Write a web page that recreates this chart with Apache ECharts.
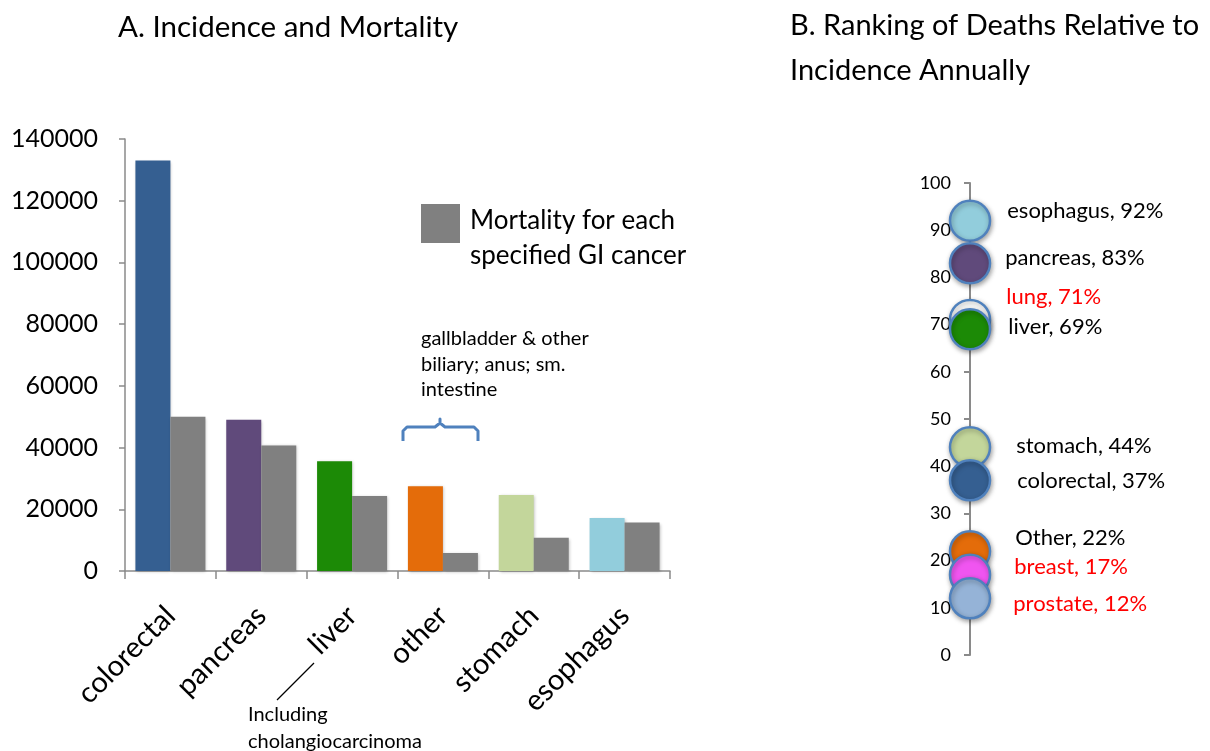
<!DOCTYPE html>
<html>
<head>
<meta charset="utf-8">
<script src="https://cdn.jsdelivr.net/npm/echarts@6/dist/echarts.min.js"></script>
<style>
  html, body { margin: 0; padding: 0; background: #ffffff; }
  #chart { width: 1210px; height: 751px; }
</style>
</head>
<body>
<div id="chart"></div>
<script>
// Panel A: annual incidence and mortality by GI cancer site
const categories = ['colorectal', 'pancreas', 'liver', 'other', 'stomach', 'esophagus'];
const incidence = [133000, 49000, 35600, 27500, 24600, 17200];
const mortality = [50000, 40700, 24300, 5800, 10800, 15700];
const yTicksA = { min: 0, max: 140000, step: 20000 };

// Panel B: deaths relative to incidence (%)
const rankNames = ['esophagus', 'pancreas', 'lung', 'liver', 'stomach', 'colorectal', 'Other', 'breast', 'prostate'];
const rankPct = [92, 83, 71, 69, 44, 37, 22, 17, 12];
const yTicksB = { min: 0, max: 100, step: 10 };

// Styling tables
const siteColors = ['#355f91', '#604a7b', '#1c8a06', '#e46c0a', '#c3d69b', '#92cddc'];
const rankColors = ['#92cddc', '#604a7b', '#ffffff', '#1c8a06', '#c3d69b', '#355f91', '#e46c0a', '#f055f0', '#95b3d7'];
const rankTextColors = ['#000000', '#000000', '#ff0000', '#000000', '#000000', '#000000', '#000000', '#ff0000', '#ff0000'];
const rankLabelNudge = [[0, -10], [-2, -5], [-1, -23], [1, -2], [9, -1], [10, 1], [8, -13], [7, -8], [6, 6]];

const FONT = 'Lato, "Open Sans", "Liberation Sans", sans-serif';
const AXIS_GREY = '#8a8a8a';
const mortalityName = 'Mortality for each specified GI cancer';

const chart = echarts.init(document.getElementById('chart'));

chart.setOption({
  backgroundColor: '#ffffff',
  animation: false,
  textStyle: { fontFamily: FONT, color: '#000' },
  title: [
    {
      text: 'A. Incidence and Mortality',
      left: 113, top: 7,
      textStyle: { fontFamily: FONT, fontSize: 29.5, fontWeight: 'normal', color: '#000' }
    },
    {
      text: 'B. Ranking of Deaths Relative to\nIncidence Annually',
      left: 785, top: -2,
      textStyle: { fontFamily: FONT, fontSize: 29, fontWeight: 'normal', color: '#000', lineHeight: 45 }
    }
  ],
  legend: {
    data: [mortalityName],
    left: 421, top: 204, padding: 0,
    icon: 'rect',
    itemWidth: 39, itemHeight: 39,
    selectedMode: false,
    // two-line legend text, first line level with the swatch
    formatter: () => '{a|Mortality for each}\n{b|specified GI cancer}',
    textStyle: {
      fontFamily: FONT, fontSize: 26, color: '#000',
      rich: {
        a: { fontFamily: FONT, fontSize: 26, color: '#000', lineHeight: 64, padding: [0, 0, 0, 5] },
        b: { fontFamily: FONT, fontSize: 26, color: '#000', lineHeight: 6, padding: [0, 0, 0, 5] }
      }
    }
  },
  grid: [
    { left: 125, right: 540, top: 139, bottom: 180 },
    { left: 970, right: 230, top: 183, bottom: 96 }
  ],
  xAxis: [
    {
      type: 'category', gridIndex: 0, data: categories,
      axisLine: { lineStyle: { color: AXIS_GREY, width: 1.5 } },
      axisTick: { show: true, length: 8, lineStyle: { color: AXIS_GREY, width: 1.5 } },
      axisLabel: {
        rotate: 45, margin: 40, padding: [27, 0, 0, 0],
        fontFamily: FONT, fontSize: 29, color: '#000'
      }
    },
    { type: 'value', gridIndex: 1, min: 0, max: 1, show: false }
  ],
  yAxis: [
    {
      type: 'value', gridIndex: 0,
      min: yTicksA.min, max: yTicksA.max, interval: yTicksA.step,
      splitLine: { show: false },
      axisLine: { show: true, lineStyle: { color: AXIS_GREY, width: 1.5 } },
      axisTick: { show: true, length: 6, lineStyle: { color: AXIS_GREY, width: 1.5 } },
      axisLabel: { margin: 27, fontFamily: FONT, fontSize: 25, color: '#000', formatter: v => String(v) }
    },
    {
      type: 'value', gridIndex: 1,
      min: yTicksB.min, max: yTicksB.max, interval: yTicksB.step,
      splitLine: { show: false },
      axisLine: { show: true, lineStyle: { color: AXIS_GREY, width: 2 } },
      axisTick: { show: true, length: 6, lineStyle: { color: AXIS_GREY, width: 2 } },
      axisLabel: { margin: 19, fontFamily: FONT, fontSize: 18, color: '#000' }
    }
  ],
  series: [
    {
      name: 'Incidence',
      type: 'bar', xAxisIndex: 0, yAxisIndex: 0,
      data: incidence,
      barWidth: 35, barGap: '0%',
      itemStyle: {
        color: p => siteColors[p.dataIndex],
        shadowBlur: 3, shadowOffsetX: 1, shadowOffsetY: 1, shadowColor: 'rgba(0,0,0,0.25)'
      }
    },
    {
      name: mortalityName,
      type: 'bar', xAxisIndex: 0, yAxisIndex: 0,
      data: mortality,
      barWidth: 35, barGap: '0%',
      itemStyle: {
        color: '#808080',
        shadowBlur: 3, shadowOffsetX: 1, shadowOffsetY: 1, shadowColor: 'rgba(0,0,0,0.25)'
      }
    },
    {
      name: 'Deaths relative to incidence',
      type: 'scatter', xAxisIndex: 1, yAxisIndex: 1,
      clip: false,
      symbolSize: 40,
      data: rankPct.map((v, i) => ({
        name: rankNames[i],
        value: [0, v],
        itemStyle: { color: rankColors[i] },
        label: { color: rankTextColors[i], offset: rankLabelNudge[i] }
      })),
      itemStyle: {
        opacity: 1,
        borderColor: '#4f81bd', borderWidth: 2.5,
        shadowBlur: 5, shadowOffsetX: 1, shadowOffsetY: 2, shadowColor: 'rgba(0,0,0,0.35)'
      },
      label: {
        show: true, position: 'right', distance: 16, opacity: 1,
        fontFamily: FONT, fontSize: 22, color: '#000000',
        formatter: p => p.name + ', ' + p.value[1] + '%'
      },
      emphasis: { disabled: true }
    }
  ],
  graphic: [
    {
      type: 'text', left: 421, top: 326,
      style: {
        text: 'gallbladder & other\nbiliary; anus; sm.\nintestine',
        fontFamily: FONT, fontSize: 20, lineHeight: 25.5, fill: '#000'
      }
    },
    {
      // curly brace grouping the "other" sites
      type: 'polyline',
      shape: {
        points: [[403, 441], [403, 431], [407, 427], [435, 427], [440, 423], [440, 419],
                 [440, 423], [445, 427], [474, 427], [478, 431], [478, 441]]
      },
      style: { fill: 'none', stroke: '#4f81bd', lineWidth: 3, lineJoin: 'round' }
    },
    {
      type: 'line',
      shape: { x1: 277, y1: 700, x2: 314, y2: 663 },
      style: { stroke: '#000', lineWidth: 1.2 }
    },
    {
      type: 'text', left: 248, top: 701,
      style: {
        text: 'Including\ncholangiocarcinoma',
        fontFamily: FONT, fontSize: 20, lineHeight: 27, fill: '#000'
      }
    }
  ]
});
</script>
</body>
</html>
